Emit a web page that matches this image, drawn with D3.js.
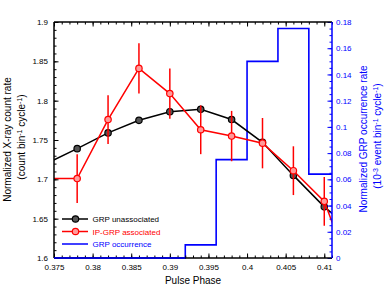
<!DOCTYPE html>
<html lang="en">
<head>
<meta charset="UTF-8">
<title>GRP pulse phase</title>
<script src="https://d3js.org/d3.v7.min.js"></script>
<style>
  body { margin: 0; background: #fff; }
  text { font-family: "Liberation Sans", Arial, sans-serif; }
</style>
</head>
<body>
<div id="chart"></div>
<script>
// phases of the points (first and last fall just outside the frame)
const phase = [0.374, 0.378, 0.382, 0.386, 0.390, 0.394, 0.398, 0.402, 0.406, 0.410, 0.414];
const unassoc = [1.720, 1.739, 1.759, 1.775, 1.786, 1.789, 1.776, 1.747, 1.705, 1.665, 1.633];
const assoc = [1.701, 1.701, 1.776, 1.841, 1.809, 1.763, 1.755, 1.746, 1.711, 1.672, 1.568];
const assocErr = [0.031, 0.031, 0.031, 0.032, 0.032, 0.031, 0.032, 0.032, 0.031, 0.031, 0.031];
// GRP occurrence histogram, same bin centres, 0.004 wide
const grpRate = [0, 0, 0, 0, 0, 0.010, 0.075, 0.150, 0.175, 0.064, 0.064];
const binWidth = 0.004;

const xTicks = [0.375, 0.38, 0.385, 0.39, 0.395, 0.4, 0.405, 0.41];
const yTicks = [1.6, 1.65, 1.7, 1.75, 1.8, 1.85, 1.9];
const y2Ticks = [0, 0.02, 0.04, 0.06, 0.08, 0.1, 0.12, 0.14, 0.16, 0.18];

const W = 385, H = 289;
const L = 54, R = 332, T = 22, B = 258;

const svg = d3.select("#chart").append("svg")
  .attr("width", W).attr("height", H);

const x = d3.scaleLinear().domain([0.375, 0.411]).range([L, R]);
const y = d3.scaleLinear().domain([1.6, 1.9]).range([B, T]);
const y2 = d3.scaleLinear().domain([0, 0.18]).range([B, T]);

svg.append("clipPath").attr("id", "clip")
  .append("rect").attr("x", L).attr("y", T - 2).attr("width", R - L).attr("height", B - T + 4);

const plot = svg.append("g").attr("clip-path", "url(#clip)");

// histogram as a step line
const steps = phase.map((p, i) => [p - binWidth / 2, grpRate[i]]);
steps.push([phase[phase.length - 1] + binWidth / 2, grpRate[grpRate.length - 1]]);
plot.append("path")
  .datum(steps)
  .attr("fill", "none")
  .attr("stroke", "#0000ff")
  .attr("stroke-width", 1.6)
  .attr("d", d3.line().x(d => x(d[0])).y(d => y2(d[1])).curve(d3.curveStepAfter));

const line = d3.line().x((d, i) => x(phase[i])).y(d => y(d));

// unassociated
plot.append("path").datum(unassoc)
  .attr("fill", "none").attr("stroke", "#000").attr("stroke-width", 1.5)
  .attr("d", line);
plot.selectAll(".mk0").data(unassoc).enter().append("circle")
  .attr("cx", (d, i) => x(phase[i])).attr("cy", d => y(d)).attr("r", 3.2)
  .attr("fill", "#555").attr("stroke", "#000").attr("stroke-width", 1.2);

// associated
plot.selectAll(".err").data(assoc).enter().append("line")
  .attr("x1", (d, i) => x(phase[i])).attr("x2", (d, i) => x(phase[i]))
  .attr("y1", (d, i) => y(d - assocErr[i])).attr("y2", (d, i) => y(d + assocErr[i]))
  .attr("stroke", "#ff0000").attr("stroke-width", 1.5);
plot.append("path").datum(assoc)
  .attr("fill", "none").attr("stroke", "#ff0000").attr("stroke-width", 1.5)
  .attr("d", line);
plot.selectAll(".mk1").data(assoc).enter().append("circle")
  .attr("cx", (d, i) => x(phase[i])).attr("cy", d => y(d)).attr("r", 3.2)
  .attr("fill", "#ff9a9a").attr("stroke", "#ff0000").attr("stroke-width", 1.2);

// axes
const fmt = d => String(+d.toFixed(3));
const xMinor = d3.range(0, 37).map(i => 0.375 + i * 0.001);
const yMinor = d3.range(0, 31).map(i => 1.6 + i * 0.01);
const y2Minor = d3.range(0, 37).map(i => i * 0.005);

function ax(axis, transform, color) {
  const g = svg.append("g").attr("transform", transform).call(axis);
  g.select(".domain").remove();
  g.selectAll("line").attr("stroke", color);
  g.selectAll("text").attr("fill", color).style("font-size", "8px");
  return g;
}

// bottom and top
ax(d3.axisBottom(x).tickValues(xMinor).tickSize(-2.5).tickFormat(""), `translate(0,${B})`, "#000");
ax(d3.axisBottom(x).tickValues(xTicks).tickSize(-4.5).tickPadding(6).tickFormat(fmt), `translate(0,${B})`, "#000");
ax(d3.axisTop(x).tickValues(xMinor).tickSize(-2.5).tickFormat(""), `translate(0,${T})`, "#000");
ax(d3.axisTop(x).tickValues(xTicks).tickSize(-4.5).tickFormat(""), `translate(0,${T})`, "#000");
// left
ax(d3.axisLeft(y).tickValues(yMinor).tickSize(-2.5).tickFormat(""), `translate(${L},0)`, "#000");
ax(d3.axisLeft(y).tickValues(yTicks).tickSize(-4.5).tickPadding(6).tickFormat(fmt), `translate(${L},0)`, "#000");
// right
ax(d3.axisRight(y2).tickValues(y2Minor).tickSize(-2.5).tickFormat(""), `translate(${R},0)`, "#0000ff");
ax(d3.axisRight(y2).tickValues(y2Ticks).tickSize(-4.5).tickPadding(4).tickFormat(fmt), `translate(${R},0)`, "#0000ff");

// frame
svg.append("line").attr("x1", L).attr("x2", R).attr("y1", T).attr("y2", T).attr("stroke", "#000").attr("stroke-width", 1.5);
svg.append("line").attr("x1", L).attr("x2", R).attr("y1", B).attr("y2", B).attr("stroke", "#000").attr("stroke-width", 1.5);
svg.append("line").attr("x1", L).attr("x2", L).attr("y1", T).attr("y2", B).attr("stroke", "#000").attr("stroke-width", 1.5);
svg.append("line").attr("x1", R).attr("x2", R).attr("y1", T).attr("y2", B).attr("stroke", "#0000ff").attr("stroke-width", 1.5);
// zero level of the histogram sits on the bottom frame
svg.append("line").attr("x1", L).attr("x2", x(phase[5] - binWidth / 2)).attr("y1", B).attr("y2", B)
  .attr("stroke", "#0000ff").attr("stroke-width", 1.5);

// axis titles
function vtitle(cx, cy, color, parts) {
  const t = svg.append("text")
    .attr("transform", `translate(${cx},${cy}) rotate(-90)`)
    .attr("text-anchor", "middle").attr("fill", color).style("font-size", "10px");
  parts.forEach(p => {
    const s = t.append("tspan").text(p[0]);
    if (p[1]) s.attr("baseline-shift", "super").style("font-size", "7px");
  });
}
vtitle(11, 139.5, "#000", [["Normalized X-ray count rate"]]);
vtitle(24.5, 137, "#000", [["(count bin"], ["-1", true], [" cycle"], ["-1", true], [")"]]);
vtitle(366.5, 139, "#0000ff", [["Normalized GRP occurrence rate"]]);
vtitle(380.5, 136, "#0000ff", [["(10"], ["-3", true], [" event bin"], ["-1", true], [" cycle"], ["-1", true], [")"]]);

svg.append("text").attr("x", (L + R) / 2).attr("y", 284)
  .attr("text-anchor", "middle").style("font-size", "10px").text("Pulse Phase");

// legend
const legend = [
  { label: "GRP unassociated", color: "#000", fill: "#555", marker: true },
  { label: "IP-GRP associated", color: "#ff0000", fill: "#ff9a9a", marker: true },
  { label: "GRP occurrence", color: "#0000ff", marker: false }
];
const lg = svg.append("g");
legend.forEach((d, i) => {
  const ly = 219 + i * 12.5;
  lg.append("line").attr("x1", 62).attr("x2", 88).attr("y1", ly).attr("y2", ly)
    .attr("stroke", d.color).attr("stroke-width", 1.5);
  if (d.marker) lg.append("circle").attr("cx", 75.5).attr("cy", ly).attr("r", 3.2)
    .attr("fill", d.fill).attr("stroke", d.color).attr("stroke-width", 1.2);
  lg.append("text").attr("x", 92.5).attr("y", ly + 3).attr("fill", d.color)
    .style("font-size", "8px").text(d.label);
});
</script>
</body>
</html>
